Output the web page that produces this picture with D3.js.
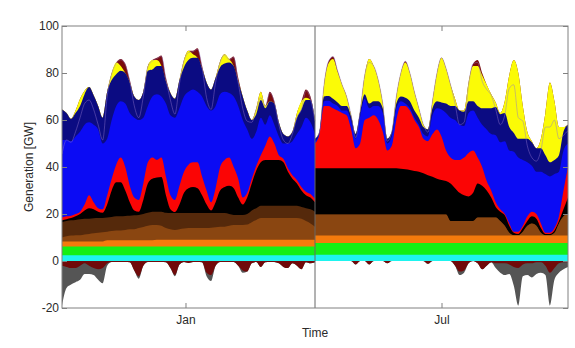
<!DOCTYPE html>
<html>
<head>
<meta charset="utf-8">
<script src="https://cdn.jsdelivr.net/npm/d3@7"></script>
<style>
  body { margin: 0; background: #fff; }
  svg { display: block; }
  text { font-family: "Liberation Sans", Arial, Helvetica, sans-serif; }
</style>
</head>
<body>
<svg id="chart" width="575" height="348"></svg>
<script>
// Two sample weeks, 3-hourly steps (0..168 h inclusive in each week).
const periodLabels = ["Jan", "Jul"];
const periodTickHours = [82, 252];
const hoursPerStep = 3;
const stepsPerPeriod = 57;
const periodHours = 168;
const yTickValues = [-20, 0, 20, 40, 60, 80, 100];

// Generation per source in GW: first 57 values January week, last 57 values July week.
const cyanGW = [
  2.5,2.5,2.5,2.5,2.5,2.5,2.5,2.5,2.5,2.5, 2.5,2.5,2.5,2.5,2.5,2.5,2.5,2.5,2.5,2.5,
  2.5,2.5,2.5,2.5,2.5,2.5,2.5,2.5,2.5,2.5, 2.5,2.5,2.5,2.5,2.5,2.5,2.5,2.5,2.5,2.5,
  2.5,2.5,2.5,2.5,2.5,2.5,2.5,2.5,2.5,2.5, 2.5,2.5,2.5,2.5,2.5,2.5,2.5,
  2.7,2.7,2.7,2.7,2.7,2.7,2.7,2.7,2.7,2.7, 2.7,2.7,2.7,2.7,2.7,2.7,2.7,2.7,2.7,2.7,
  2.7,2.7,2.7,2.7,2.7,2.7,2.7,2.7,2.7,2.7, 2.7,2.7,2.7,2.7,2.7,2.7,2.7,2.7,2.7,2.7,
  2.7,2.7,2.7,2.7,2.7,2.7,2.7,2.7,2.7,2.7, 2.7,2.7,2.7,2.7,2.7,2.7,2.7
];
const greenGW = [
  3.7,3.7,3.7,3.7,3.7,3.7,3.7,3.7,3.7,3.7, 3.7,3.7,3.7,3.7,3.7,3.7,3.7,3.7,3.7,3.7,
  3.7,3.7,3.7,3.7,3.7,3.7,3.7,3.7,3.7,3.7, 3.7,3.7,3.7,3.7,3.7,3.7,3.7,3.7,3.7,3.7,
  3.7,3.7,3.7,3.7,3.7,3.7,3.7,3.7,3.7,3.7, 3.7,3.7,3.7,3.7,3.7,3.7,3.7,
  5.0,5.0,5.0,5.0,5.0,5.0,5.0,5.0,5.0,5.0, 5.0,5.0,5.0,5.0,5.0,5.0,5.0,5.0,5.0,5.0,
  5.0,5.0,5.0,5.0,5.0,5.0,5.0,5.0,5.0,5.0, 5.0,5.0,5.0,5.0,5.0,5.0,5.0,5.0,5.0,5.0,
  5.0,5.0,5.0,5.0,5.0,5.0,5.0,5.0,5.0,5.0, 5.0,5.0,5.0,5.0,5.0,5.0,5.0
];
const orangeGW = [
  2.1,2.1,2.1,2.1,2.1,2.1,2.1,2.1,2.1,2.1, 2.6,2.6,2.6,2.6,2.6,2.6,2.6,2.6,2.6,2.6,
  2.6,2.8,2.8,2.8,2.8,2.8,2.8,2.8,2.8,2.8, 2.8,2.8,2.8,2.8,2.8,2.8,2.8,2.8,2.8,2.8,
  2.8,2.8,2.8,2.8,2.8,2.8,2.8,2.8,2.8,2.8, 2.8,2.8,2.8,2.8,2.8,2.8,2.8,
  3.2,3.2,3.2,3.2,3.2,3.2,3.2,3.2,3.2,3.2, 3.2,3.2,3.2,3.2,3.2,3.2,3.2,3.2,3.2,3.2,
  3.2,3.2,3.2,3.2,3.2,3.2,3.2,3.2,3.2,3.2, 3.2,3.2,3.2,3.2,3.2,3.2,3.2,3.2,3.2,3.2,
  3.2,3.2,3.2,3.2,3.2,3.2,3.2,3.2,3.2,3.2, 3.2,3.2,3.2,3.2,3.2,3.2,3.2
];
const brownGW = [
  1.7,2.2,2.5,2.7,2.7,3.0,3.2,3.5,3.7,3.9, 3.7,4.0,4.2,4.2,4.4,4.7,4.7,5.2,5.7,6.2,
  6.5,6.3,6.0,5.0,4.5,4.2,4.5,4.8,5.0,5.0, 5.0,5.0,5.0,5.2,5.4,5.6,5.6,6.0,6.3,6.3,
  6.3,6.5,7.5,8.5,9.3,9.3,9.3,9.3,9.3,9.3, 9.3,9.3,9.3,9.0,8.0,7.0,5.6,
  8.9,8.9,8.9,8.9,8.9,8.9,8.9,8.9,8.9,8.9, 8.9,8.9,8.9,8.9,8.9,8.9,8.9,8.9,8.9,8.9,
  8.9,8.9,8.9,8.9,8.9,8.9,8.9,8.9,8.9,8.9, 6.1,6.1,6.1,6.1,6.1,6.1,7.6,7.6,7.6,7.6,
  7.6,6.1,4.1,1.1,0.1,0.1,1.6,4.1,5.1,4.1, 1.1,0.1,0.1,1.1,5.1,8.1,9.1
];
const darkBrownGW = [
  6.5,6.5,6.5,6.5,6.8,6.7,6.5,6.4,6.3,6.1, 6.0,5.9,6.0,6.0,6.0,5.8,6.0,5.6,5.5,5.5,
  5.7,5.7,6.0,6.5,6.9,7.2,6.9,6.6,6.4,6.4, 6.4,6.4,6.4,6.2,6.0,5.8,5.8,5.0,4.3,4.3,
  4.3,4.5,5.0,5.0,5.2,5.2,5.2,5.2,5.2,5.2, 5.2,5.2,5.2,5.0,5.5,6.0,6.4,
  0,0,0,0,0,0,0,0,0,0, 0,0,0,0,0,0,0,0,0,0,
  0,0,0,0,0,0,0,0,0,0, 0,0,0,0,0,0,0,0,0,0,
  0,0,0,0,0,0,0,0,0,0, 0,0,0,0,0,0,0
];
const blackGW = [
  0.8,0.8,1.0,1.5,2.2,3.5,4.5,3.8,2.7,2.2, 5.5,11.3,14.5,14.5,10.8,5.7,2.0,1.4,6.0,12.5,
  14.0,14.5,14.7,7.5,1.6,0.4,3.6,8.6,10.6,11.1, 10.6,7.6,3.6,1.1,4.6,9.6,11.1,12.0,11.4,7.4,
  4.4,7.0,11.5,16.0,18.5,19.5,19.5,19.5,19.5,18.5, 14.5,11.5,9.5,7.0,5.5,5.0,4.0,
  19.7,19.7,19.7,19.7,19.7,19.7,19.7,19.7,19.7,19.7, 19.7,19.7,19.7,19.7,19.7,19.7,19.7,19.7,19.7,19.5,
  19.2,18.9,18.5,18.2,17.5,16.7,16.0,15.2,14.7,14.2, 16.0,14.0,12.0,11.0,10.5,12.0,14.5,13.5,11.5,8.5,
  4.5,4.0,4.5,3.0,1.0,0.5,1.5,2.0,3.0,3.0, 2.0,0.5,0.5,1.0,1.0,3.0,7.0
];
const redGW = [
  1.2,1.2,1.0,1.0,1.0,2.5,5.5,3.0,1.5,1.5, 4.0,5.0,7.5,10.5,10.0,7.0,5.5,5.0,7.0,9.0,
  9.0,7.5,8.3,8.0,6.0,5.2,8.0,9.0,10.0,10.5, 11.0,8.0,6.0,3.5,6.0,10.0,11.5,12.0,9.0,8.0,
  3.0,2.0,2.0,2.0,3.0,6.0,10.0,7.0,2.0,1.5, 1.5,1.5,1.5,1.5,1.5,1.5,1.5,
  10.5,14.5,26.5,26.5,25.5,24.5,23.5,22.5,16.5,8.5, 10.5,20.5,21.5,22.5,20.5,15.5,7.5,9.5,20.5,26.7,
  27.0,25.3,21.7,19.0,14.7,14.5,18.2,21.0,18.5,13.0, 11.0,12.0,14.0,16.0,18.5,18.0,11.0,8.0,4.0,3.0,
  2.0,1.0,0.5,1.0,0.5,1.0,1.0,2.0,2.0,2.0, 2.0,0.5,0.5,1.0,2.0,8.0,13.0
];
const blueGW = [
  33.0,32.5,31.7,33.0,34.0,34.0,31.0,33.0,33.5,28.0, 24.0,25.0,25.0,24.0,27.0,31.0,34.0,34.0,28.0,24.0,
  26.0,28.0,26.0,31.0,34.0,35.0,33.0,32.0,31.0,31.0, 30.0,34.0,36.0,39.0,35.0,31.0,29.0,27.5,30.0,31.0,
  33.0,27.0,17.0,14.5,16.0,9.0,9.0,8.0,8.0,6.5, 10.5,14.5,19.5,25.5,31.5,30.5,27.5,
  1,0.5,2,2.2,2,2,1,2,3.5,4, 11.5,9,4,4,6,8,3,4,5,2,
  1,1,1,1,2,2,8,9,11.5,16, 17,17,15,13.5,17,17,17,18,22,24,
  28.5,28.5,31,31,34,31.5,28,23,19.5,18, 22,25,24,23,19,17,10
];
const navyGW = [
  13.0,11.5,9.5,10.0,11.0,13.0,15.0,12.5,10.0,11.0, 20.0,17.0,13.5,13.0,13.0,13.0,9.0,8.5,11.0,15.0,
  11.5,12.0,13.0,9.5,9.5,8.0,12.0,12.5,13.5,13.5, 14.5,12.0,10.0,9.0,12.0,11.5,12.0,13.0,13.0,10.5,
  10.0,8.0,8.0,7.5,7.5,7.0,6.0,9.0,6.0,4.0, 3.0,4.0,7.0,7.5,7.5,9.5,6.0,
  1,0.5,2,2,2,1.5,2,2,2,2, 2,2,2,2,2,2,2,2,2,2,
  2.5,3,3,3,3,3,3,3,3,4, 5,6,6,6,5,4,5,7,9,11,
  12,12,12,10,8,8,9,10,10,10, 10,8,6,6,7,8,8
];
const yellowGW = [
  0,0,0,1,3,1.5,0,0,0,0, 0,3,5,2,0,0,0,0,0,2,
  4,2.5,0,0,0,0,0,3,4,1.5, 0,0,0,0,0,2.5,4,1.5,0,0,
  0,0,0,2.5,3.5,1,0,0,0,0, 0,0,2,3.5,1,0,0,
  0,0,5,14,17,13,9,4,0.5,0, 0.5,8,19,15,9,2,0,0,3,10,
  15,12,8,4,1,0,3,12,19,15, 9,3,0,0.5,8,15,17,14,10,6,
  2,0.5,5,22,31,28,14,3,0.5,0, 4,18,34,25,12,2,0
];
const maroonGW = [
  0,0,0,0,0,0,0,0,0,0, 0,0,0,3,4,1,0,0,0,0,
  0,1,4.5,1.5,0,0,0,0,0,1.5, 4,1,0,0,0,0,0,0,4,1.5,
  0,0,0,0,0,0,4,1,0,0, 0,0,0,0,3.5,1.5,0,
  0,0,0,0.8,1,0.5,0,0,0,0, 0,0,0,0,0,0,0,0,0,0,
  0.5,0,0,0,0,0,0,0,0,0, 0,0,0,0,0,1,2.5,1,0,0,
  0,0,0,0,0,0,0,0,0,0, 0,0,0,0,0,0,0
];
// Negative flows (below zero)
const maroonNegGW = [
  -2,-2.5,-3,-3,-2,-1,-2,-3,-3.5,-3, -1,-0.4,-0.4,-0.4,-0.4,-0.5,-4,-6.5,-2,-0.4,
  -0.4,-0.4,-0.4,-0.5,-3,-6,-1.5,-0.4,-0.8,-0.4, -0.4,-0.5,-5,-6,-2,-0.4,-0.4,-0.4,-0.4,-2,
  -4,-4.5,-1,-0.4,-2.5,-0.5,-0.4,-0.4,-1,-2.5, -3,-1,-2,-3.5,-0.5,-1,-0.5,
  0,0,0,0,0,0,0,0,0,-1.5, 0,0,-1.5,0,0,0,-1,0,0,0,
  0,0,0,0,0,-1.2,0,0,0,0, 0,-2,-4.5,-4,-1,0,-1,-3.5,-2,-0.5,
  -1,-1,-1,-1.5,-2.5,-3,-1.5,-1,-1,-0.5, -0.5,-2,-5,-3,-1,-0.5,-0.5
];
const grayNegGW = [
  -17,-9,-7,-6,-6,-4.5,-3.5,-3,-4.5,-6.5, -1,0,0,0,0,0,0,-1,0,0,
  0,0,0,0,0,-0.5,0,0,0,0, 0,0,-1.5,-2.5,0,0,0,0,0,0,
  -1,0,0,0,0,0,0,0,0,0, 0,0,0,0,0,0,0,
  0,0,0,0,0,0,0,0,0,0, 0,0,0,0,0,0,0,0,0,0,
  0,0,0,0,0,0,0,0,0,0, 0,0,-1.5,-1,0,0,0,0,0,0,
  -2,-4,-5,-4,-8,-16,-5,-5,-6,-5, -4.5,-4,-14,-5,-4,-3,-2
];

const series = {
  cyan: cyanGW, green: greenGW, orange: orangeGW, brown: brownGW, darkBrown: darkBrownGW,
  black: blackGW, red: redGW, blue: blueGW, navy: navyGW, yellow: yellowGW, maroon: maroonGW,
  maroonNeg: maroonNegGW, grayNeg: grayNegGW
};
const posKeys = ["cyan","green","orange","brown","darkBrown","black","red","blue","navy","yellow","maroon"];
const negKeys = ["maroonNeg","grayNeg"];
const allKeys = posKeys.concat(negKeys);

Object.entries(series).forEach(([k, arr]) => {
  if (arr.length !== 2 * stepsPerPeriod) throw new Error(k + " has " + arr.length + " values");
});

const fills = {
  cyan: "#1ef4ef", green: "#14ef14", orange: "#f47a0c", brown: "#8a4611", darkBrown: "#55290b",
  black: "#000000", red: "#fb0505", blue: "#0b0bf4", navy: "#0b0b82", yellow: "#fbfb06",
  maroon: "#7a0c0c", maroonNeg: "#700a0a", grayNeg: "#555555"
};

const plot = { left: 62, right: 568, top: 26, bottom: 308 };
const svg = d3.select("#chart");

const x = d3.scaleLinear().domain([0, 2 * periodHours]).range([plot.left, plot.right]);
const y = d3.scaleLinear().domain([-20, 100]).range([plot.bottom, plot.top]);

svg.append("defs").append("clipPath").attr("id", "plotClip")
  .append("rect")
  .attr("x", plot.left).attr("y", plot.top)
  .attr("width", plot.right - plot.left).attr("height", plot.bottom - plot.top);

const layers = svg.append("g").attr("clip-path", "url(#plotClip)");

periodLabels.forEach((label, p) => {
  const rows = d3.range(stepsPerPeriod).map(k => {
    const i = p * stepsPerPeriod + k;
    const r = { t: p * periodHours + k * hoursPerStep };
    allKeys.forEach(key => { r[key] = series[key][i]; });
    return r;
  });

  const posStack = d3.stack().keys(posKeys)(rows);
  const negStack = d3.stack().keys(negKeys)(rows);

  // Each layer is filled from zero to its cumulative edge; lower layers are painted last.
  const fromZero = d3.area()
    .curve(d3.curveMonotoneX)
    .x(d => x(d.data.t))
    .y0(y(0))
    .y1(d => y(d[1]));

  const g = layers.append("g").attr("class", "period-" + label);
  posStack.slice().reverse().forEach(s => {
    g.append("path").attr("d", fromZero(s)).attr("fill", fills[s.key]);
  });
  negStack.slice().reverse().forEach(s => {
    g.append("path").attr("d", fromZero(s)).attr("fill", fills[s.key]);
  });

  // Net load line (generation minus outflows)
  const net = rows.map(r => ({ t: r.t, v: d3.sum(allKeys, key => r[key]) }));
  g.append("path")
    .datum(net)
    .attr("d", d3.line().curve(d3.curveMonotoneX).x(d => x(d.t)).y(d => y(d.v)))
    .attr("fill", "none")
    .attr("stroke", "#8f74cc")
    .attr("stroke-opacity", 0.45)
    .attr("stroke-width", 1);
});

// Separator between the two weeks
svg.append("line")
  .attr("x1", x(periodHours)).attr("x2", x(periodHours))
  .attr("y1", plot.top).attr("y2", plot.bottom)
  .attr("stroke", "#666").attr("stroke-width", 1);

// Axes (ticks pointing inward)
const axisColor = "#808080";
const textColor = "#2a2a2a";
function styleAxis(sel) {
  sel.select(".domain").remove();
  sel.selectAll(".tick line").attr("stroke", axisColor);
  sel.selectAll(".tick text").attr("fill", textColor).style("font-size", "12px");
}

svg.append("g").attr("transform", `translate(${plot.left},0)`)
  .call(d3.axisLeft(y).tickValues(yTickValues).tickSize(-5).tickPadding(3).tickFormat(d => String(d)))
  .call(styleAxis);
svg.append("g").attr("transform", `translate(${plot.right},0)`)
  .call(d3.axisRight(y).tickValues(yTickValues).tickSize(-5).tickFormat(""))
  .call(styleAxis);
svg.append("g").attr("transform", `translate(0,${plot.bottom})`)
  .call(d3.axisBottom(x).tickValues(periodTickHours).tickSize(-5).tickPadding(7)
    .tickFormat((d, i) => periodLabels[i]))
  .call(styleAxis);
svg.append("g").attr("transform", `translate(0,${plot.top})`)
  .call(d3.axisTop(x).tickValues(periodTickHours).tickSize(-5).tickFormat(""))
  .call(styleAxis);

// Frame
svg.append("rect")
  .attr("x", plot.left).attr("y", plot.top)
  .attr("width", plot.right - plot.left).attr("height", plot.bottom - plot.top)
  .attr("fill", "none").attr("stroke", axisColor).attr("stroke-width", 1);

// Axis titles
svg.append("text")
  .attr("x", x(periodHours)).attr("y", 337)
  .attr("text-anchor", "middle").attr("fill", textColor).style("font-size", "12px")
  .text("Time");
svg.append("text")
  .attr("transform", `translate(33,${(plot.top + plot.bottom) / 2}) rotate(-90)`)
  .attr("text-anchor", "middle").attr("fill", textColor).style("font-size", "12px")
  .text("Generation [GW]");
</script>
</body>
</html>
